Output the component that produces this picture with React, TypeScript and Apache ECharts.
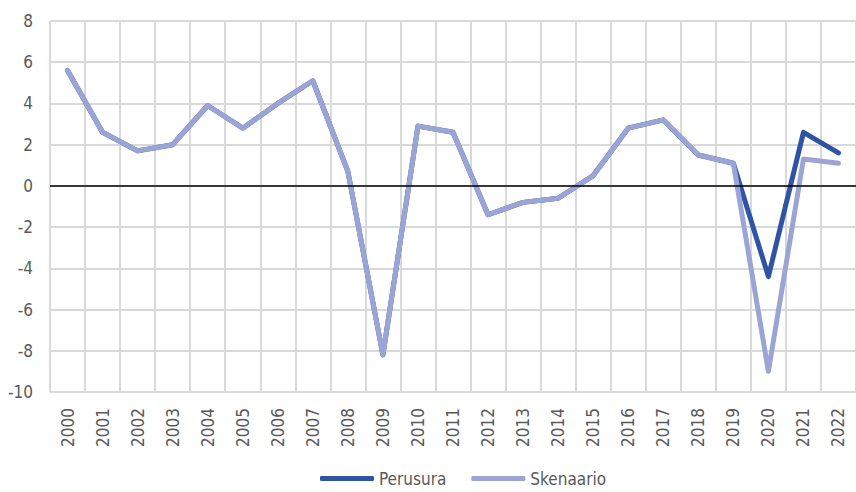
import React, { useEffect, useRef } from "react";
import * as echarts from "echarts";

const years = ["2000","2001","2002","2003","2004","2005","2006","2007","2008","2009","2010","2011","2012","2013","2014","2015","2016","2017","2018","2019","2020","2021","2022"];
const perusura = [5.6, 2.6, 1.7, 2.0, 3.9, 2.8, 4.0, 5.1, 0.7, -8.2, 2.9, 2.6, -1.4, -0.8, -0.6, 0.5, 2.8, 3.2, 1.5, 1.1, -4.4, 2.6, 1.6];
const skenaario = [5.6, 2.6, 1.7, 2.0, 3.9, 2.8, 4.0, 5.1, 0.7, -8.2, 2.9, 2.6, -1.4, -0.8, -0.6, 0.5, 2.8, 3.2, 1.5, 1.1, -9.0, 1.3, 1.1];

const FONT = '"DejaVu Sans Condensed", "Liberation Sans Narrow", "Roboto", sans-serif';
const GRID_COLOR = "#d9d9d9";
const TEXT_COLOR = "#595959";

export default function App() {
  const ref = useRef<HTMLDivElement>(null);
  useEffect(() => {
    if (!ref.current) return;
    const chart = echarts.init(ref.current, undefined, { renderer: "svg" });
    chart.setOption({
      animation: false,
      backgroundColor: "#ffffff",
      textStyle: { fontFamily: FONT },
      grid: { left: 50, right: 0, top: 21, bottom: 100, containLabel: false },
      legend: {
        left: 315,
        top: 465,
        itemWidth: 54,
        itemHeight: 5,
        itemGap: 25,
        icon: "roundRect",
        textStyle: { fontFamily: FONT, fontSize: 17, color: TEXT_COLOR },
        data: ["Perusura", "Skenaario"],
      },
      xAxis: {
        type: "category",
        data: years,
        boundaryGap: true,
        axisLine: { show: true, lineStyle: { color: GRID_COLOR, width: 2 } },
        axisTick: { show: false },
        axisLabel: {
          rotate: 90,
          interval: 0,
          margin: 16,
          fontFamily: FONT,
          fontSize: 17,
          color: TEXT_COLOR,
        },
        splitLine: { show: true, interval: 0, lineStyle: { color: GRID_COLOR, width: 2 } },
      },
      yAxis: {
        type: "value",
        min: -10,
        max: 8,
        interval: 2,
        axisLine: { show: false },
        axisTick: { show: false },
        axisLabel: { margin: 17, fontFamily: FONT, fontSize: 17, color: TEXT_COLOR },
        splitLine: { show: true, lineStyle: { color: GRID_COLOR, width: 2 } },
      },
      series: [
        {
          name: "Perusura",
          type: "line",
          data: perusura,
          symbol: "none",
          color: "#2f54a3",
          lineStyle: { width: 5, cap: "round", join: "round", color: "#2f54a3" },
          markLine: {
            silent: true,
            symbol: ["none", "none"],
            label: { show: false },
            lineStyle: { color: "#000000", width: 1.5, type: "solid" },
            data: [{ yAxis: 0 }],
          },
        },
        {
          name: "Skenaario",
          type: "line",
          data: skenaario,
          symbol: "none",
          color: "#9ba5d5",
          lineStyle: { width: 5, cap: "round", join: "round", color: "#9ba5d5" },
        },
      ],
    });
    return () => chart.dispose();
  }, []);
  return (
    <div
      ref={ref}
      style={{ position: "fixed", left: 0, top: 0, width: 856, height: 492 }}
    />
  );
}
